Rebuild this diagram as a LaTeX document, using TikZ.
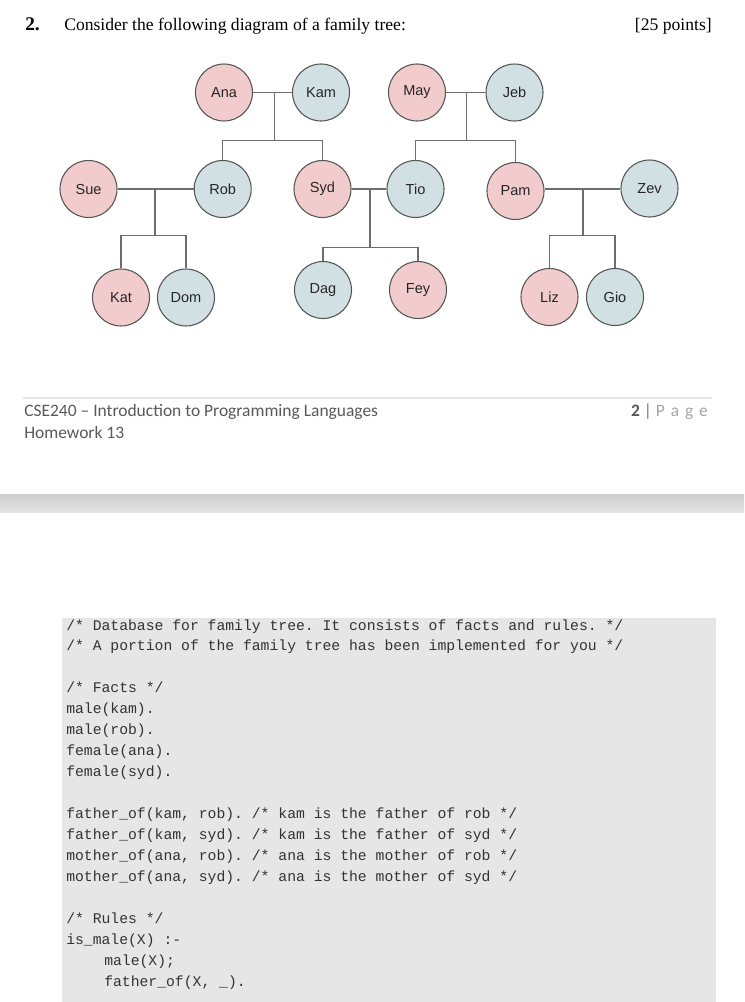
\documentclass[tikz,border=0pt]{standalone}
\usepackage{fontspec}
\setmainfont{Liberation Serif}
\newfontfamily\treefont{Liberation Sans}
\newfontfamily\footfont{Carlito}
\newfontfamily\codefont{Liberation Mono}
\definecolor{fpink}{HTML}{F2CCCC}
\definecolor{fblue}{HTML}{D0E0E3}
\definecolor{fborder}{HTML}{555555}
\definecolor{fline}{HTML}{6E6E6E}
\definecolor{foottxt}{HTML}{595959}
\definecolor{codebg}{HTML}{E6E6E6}
\definecolor{codetxt}{HTML}{333333}
\tikzset{
  person/.style={circle, draw=fborder, line width=0.8pt, minimum size=42.75pt, inner sep=0pt,
    font=\treefont\fontsize{10.9}{13}\selectfont, text=black!85},
  fem/.style={person, fill=fpink},
  mal/.style={person, fill=fblue},
  link/.style={draw=fline, line width=1pt},
  codeline/.style={anchor=base west, inner sep=0pt, text=codetxt, font=\codefont\fontsize{11.05}{13}\selectfont},
  foot/.style={anchor=base west, inner sep=0pt, text=foottxt, font=\footfont\fontsize{13.1}{15}\selectfont}
}
\begin{document}
\frenchspacing
\begin{tikzpicture}[x=0.75pt,y=-0.75pt]
\useasboundingbox (0,0) rectangle (744,1002);
\fill[white] (0,0) rectangle (744,1002);
% header
\node[anchor=base west, inner sep=0pt, font=\fontsize{14.5}{16}\selectfont\bfseries] (num) at (25,31) {2.};
\node[anchor=base west, inner sep=0pt, font=\fontsize{13.2}{15}\selectfont] (q) at (64,31) {Consider the following diagram of a family tree:};
\node[anchor=base east, inner sep=0pt, font=\fontsize{13.2}{15}\selectfont] (pts) at (712,31) {[25 points]};
% tree
\node[fem] (ana) at (224,92.5) {Ana};
\node[mal] (kam) at (321,92.5) {Kam};
\node[fem] (may) at (417,92.5) {May};
\node[mal] (jeb) at (514.5,92.5) {Jeb};
\node[fem] (sue) at (88.5,189) {Sue};
\node[mal] (rob) at (222.7,189) {Rob};
\node[fem] (syd) at (322.5,189) {Syd};
\node[mal] (tio) at (415.5,189) {Tio};
\node[fem] (pam) at (515.5,191) {Pam};
\node[mal] (zev) at (649.5,188.5) {Zev};
\node[fem] (kat) at (121,297.5) {Kat};
\node[mal] (dom) at (186,297.5) {Dom};
\node[mal] (dag) at (323,290) {Dag};
\node[fem] (fey) at (418,290) {Fey};
\node[fem] (liz) at (549.5,297) {Liz};
\node[mal] (gio) at (615,297) {Gio};
% junctions
\coordinate (j1) at (274.7,92.5);
\coordinate (j1d) at (274.7,140.7);
\coordinate (j2) at (466.7,92.5);
\coordinate (j2d) at (466.7,140.7);
\coordinate (j3) at (155,189);
\coordinate (j3d) at (155,235.7);
\coordinate (j4) at (370,189);
\coordinate (j4d) at (370,247.7);
\coordinate (j5) at (583,189);
\coordinate (j5d) at (583,235.7);
\path[link] (ana) -- (kam);
\path[link] (j1) -- (j1d);
\path[link] (rob.north) |- (j1d) -| (syd.north);
\path[link] (may) -- (jeb);
\path[link] (j2) -- (j2d);
\path[link] (tio.north) |- (j2d) -| (pam.north);
\path[link] (sue) -- (rob);
\path[link] (j3) -- (j3d);
\path[link] (kat.north) |- (j3d) -| (dom.north);
\path[link] (syd) -- (tio);
\path[link] (j4) -- (j4d);
\path[link] (dag.north) |- (j4d) -| (fey.north);
\path[link] (pam.east |- j5) -- (zev.west |- j5);
\path[link] (j5) -- (j5d);
\path[link] (liz.north) |- (j5d) -| (gio.north);
% footer
\draw[gray!20, line width=1.2pt] (23,398) -- (712,398);
\node[foot] (course) at (24,416) {CSE240 – Introduction to Programming Languages};
\node[foot] (hw) at (24,438) {Homework 13};
\node[anchor=base east, inner sep=0pt, font=\footfont\fontsize{13.1}{15}\selectfont] (page) at (708,416)
  {\textcolor{foottxt}{\bfseries 2} \textcolor{foottxt!80}{|} \textcolor{black!35}{P\,\,a\,\,g\,\,e}};
% page separator band
\shade[top color=gray!38, bottom color=gray!22] (0,494) rectangle (744,512);
% code box
\fill[codebg] (62,618) rectangle (716,1002);
\node[codeline] (c1) at (66,630.5) {/* Database for family tree. It consists of facts and rules. */};
\node[codeline] (c2) at (66,650.5) {/* A portion of the family tree has been implemented for you */};
\node[codeline] (c3) at (66,692.5) {/* Facts */};
\node[codeline] (c4) at (66,713.5) {male(kam).};
\node[codeline] (c5) at (66,734.5) {male(rob).};
\node[codeline] (c6) at (66,755.5) {female(ana).};
\node[codeline] (c7) at (66,776.5) {female(syd).};
\node[codeline] (c8) at (66,818.5) {father\_of(kam, rob). /* kam is the father of rob */};
\node[codeline] (c9) at (66,839.5) {father\_of(kam, syd). /* kam is the father of syd */};
\node[codeline] (c10) at (66,860.5) {mother\_of(ana, rob). /* ana is the mother of rob */};
\node[codeline] (c11) at (66,881.5) {mother\_of(ana, syd). /* ana is the mother of syd */};
\node[codeline] (c12) at (66,923.5) {/* Rules */};
\node[codeline] (c13) at (66,944.5) {is\_male(X) :-};
\node[codeline] (c14) at (104,965.5) {male(X);};
\node[codeline] (c15) at (104,986.5) {father\_of(X, \_).};
\end{tikzpicture}
\end{document}
